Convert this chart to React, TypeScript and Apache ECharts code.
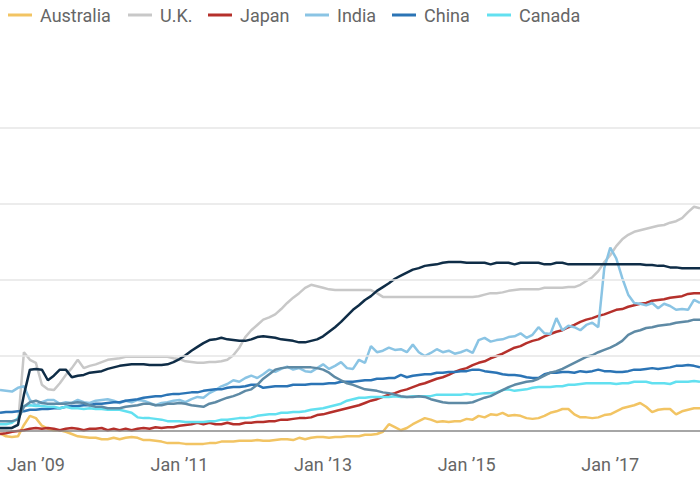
import React, { useEffect, useRef } from "react";
import * as echarts from "echarts";

// Monthly categories, Jul 2008 .. Apr 2018
const months: string[] = [];
for (let y = 2008; y <= 2018; y++) {
  for (let m = 1; m <= 12; m++) {
    if (y === 2008 && m < 7) continue;
    if (y === 2018 && m > 4) continue;
    months.push(`${y}-${String(m).padStart(2, "0")}`);
  }
}

const australia = [
  97, 93, 92, 93, 108, 120, 117, 107, 103, 101, 101, 99, 96, 93, 92, 91, 91, 89, 89, 91,
  89, 91, 92, 91, 88, 88, 87, 86, 84, 84, 84, 83, 83, 83, 83, 84, 84, 86, 86, 86,
  87, 87, 87, 88, 87, 87, 88, 89, 89, 88, 91, 89, 91, 92, 92, 91, 92, 92, 93, 93,
  93, 95, 95, 96, 99, 109, 105, 101, 104, 109, 113, 117, 115, 112, 113, 112, 113, 113, 116, 115,
  120, 118, 122, 121, 124, 120, 121, 120, 117, 116, 117, 120, 124, 126, 129, 129, 122, 118, 118, 117,
  118, 121, 122, 126, 130, 132, 134, 137, 132, 125, 128, 129, 129, 122, 126, 128, 130, 130,
];

const uk = [
  103, 103, 104, 108, 204, 194, 190, 161, 155, 154, 163, 174, 183, 194, 183, 186, 188, 191, 194, 195,
  196, 198, 198, 198, 198, 198, 198, 198, 198, 196, 195, 192, 191, 190, 190, 191, 191, 192, 194, 200,
  210, 224, 233, 240, 247, 250, 254, 261, 269, 276, 282, 289, 293, 291, 289, 287, 286, 286, 286, 286,
  286, 286, 286, 282, 277, 277, 277, 277, 277, 277, 277, 277, 277, 277, 277, 277, 277, 277, 277, 277,
  278, 280, 282, 282, 283, 285, 286, 287, 287, 287, 287, 289, 289, 289, 289, 290, 290, 293, 298, 303,
  311, 323, 332, 344, 353, 359, 363, 365, 367, 369, 371, 372, 375, 377, 381, 389, 396, 394,
];

const japan = [
  96, 97, 99, 100, 101, 103, 104, 103, 104, 103, 101, 103, 104, 103, 101, 103, 103, 104, 101, 103,
  101, 103, 101, 103, 104, 103, 105, 104, 105, 105, 107, 108, 109, 111, 109, 111, 109, 109, 111, 109,
  109, 111, 111, 112, 112, 113, 113, 115, 115, 116, 117, 117, 118, 121, 122, 124, 126, 128, 130, 132,
  134, 137, 140, 142, 145, 148, 150, 153, 155, 158, 161, 163, 166, 169, 171, 174, 178, 181, 183, 187,
  190, 192, 196, 199, 202, 206, 210, 212, 216, 219, 221, 225, 228, 231, 233, 237, 240, 244, 247, 249,
  252, 254, 257, 260, 261, 264, 266, 268, 269, 272, 273, 274, 276, 277, 278, 281, 282, 282,
];

const india = [
  154, 153, 152, 157, 159, 141, 134, 138, 141, 141, 136, 138, 137, 141, 138, 137, 140, 141, 142, 140,
  137, 140, 138, 141, 140, 137, 134, 137, 138, 140, 141, 138, 142, 145, 144, 150, 154, 159, 162, 167,
  165, 170, 173, 170, 175, 181, 178, 182, 185, 181, 183, 179, 178, 183, 188, 182, 186, 191, 183, 182,
  194, 190, 212, 204, 206, 210, 207, 208, 204, 214, 204, 199, 203, 208, 204, 206, 202, 204, 207, 203,
  220, 223, 218, 220, 221, 224, 225, 229, 223, 227, 237, 229, 228, 249, 233, 239, 237, 233, 240, 243,
  237, 315, 342, 328, 302, 280, 269, 268, 266, 269, 262, 268, 265, 260, 261, 260, 273, 269,
];

const china = [
  124, 125, 125, 126, 126, 128, 128, 129, 129, 130, 130, 132, 133, 133, 134, 134, 136, 136, 137, 138,
  138, 140, 141, 142, 144, 145, 146, 146, 148, 149, 149, 150, 151, 151, 153, 154, 155, 155, 157, 158,
  158, 159, 161, 161, 157, 158, 159, 159, 159, 161, 161, 161, 162, 162, 162, 163, 163, 165, 165, 165,
  166, 167, 167, 169, 169, 170, 170, 174, 171, 173, 174, 175, 175, 177, 177, 178, 178, 179, 179, 181,
  181, 179, 178, 177, 175, 174, 174, 173, 171, 170, 170, 175, 177, 177, 178, 178, 177, 179, 178, 179,
  181, 179, 179, 178, 178, 179, 181, 181, 182, 183, 182, 183, 184, 186, 186, 187, 186, 184,
];

const canada = [
  109, 109, 111, 117, 133, 134, 133, 133, 132, 132, 130, 132, 130, 130, 129, 130, 129, 129, 128, 128,
  128, 126, 124, 118, 117, 117, 116, 115, 113, 113, 113, 112, 112, 112, 112, 113, 113, 115, 115, 116,
  117, 117, 118, 120, 121, 122, 122, 124, 124, 125, 125, 126, 128, 129, 130, 132, 134, 136, 140, 142,
  144, 144, 145, 145, 145, 145, 146, 145, 145, 146, 146, 146, 146, 148, 148, 148, 148, 148, 149, 148,
  149, 150, 150, 151, 154, 155, 153, 154, 155, 157, 158, 158, 158, 159, 159, 161, 161, 162, 163, 163,
  163, 163, 163, 162, 163, 163, 165, 165, 165, 163, 163, 163, 162, 165, 165, 165, 166, 165,
];

const us = [
  104, 104, 104, 108, 148, 181, 182, 181, 167, 173, 181, 181, 171, 173, 174, 177, 178, 179, 182, 184,
  186, 187, 188, 188, 188, 187, 187, 187, 188, 191, 195, 200, 206, 211, 216, 220, 221, 223, 221, 220,
  219, 219, 221, 224, 225, 224, 223, 221, 220, 219, 217, 217, 219, 221, 225, 231, 237, 244, 252, 260,
  266, 273, 278, 285, 290, 295, 301, 305, 309, 313, 315, 318, 319, 320, 322, 323, 323, 323, 322, 322,
  322, 322, 320, 322, 322, 322, 320, 322, 322, 322, 322, 320, 320, 322, 322, 320, 320, 320, 320, 320,
  320, 320, 320, 320, 320, 320, 320, 320, 319, 319, 318, 318, 316, 316, 315, 315, 315, 315,
];

const eurozone = [
  113, 113, 113, 115, 132, 138, 140, 137, 136, 136, 136, 136, 137, 138, 137, 134, 132, 132, 130, 130,
  130, 132, 133, 134, 136, 136, 134, 134, 136, 136, 137, 136, 134, 133, 132, 136, 138, 141, 144, 146,
  149, 153, 155, 161, 169, 175, 181, 183, 184, 184, 184, 184, 184, 183, 181, 177, 171, 167, 163, 161,
  158, 155, 154, 153, 151, 150, 148, 146, 145, 145, 146, 145, 142, 140, 138, 137, 137, 137, 137, 138,
  141, 144, 146, 150, 154, 158, 161, 163, 165, 166, 169, 173, 177, 179, 182, 186, 190, 194, 198, 200,
  204, 207, 210, 214, 219, 227, 231, 233, 236, 237, 239, 240, 241, 243, 244, 245, 247, 247,
];

const gridValues = [200, 300, 400, 500];
const baselineValue = 100;

const seriesDefs = [
  { name: "Australia", data: australia, color: "#f2c463" },
  { name: "U.K.", data: uk, color: "#c8c8c8" },
  { name: "Japan", data: japan, color: "#b5302b" },
  { name: "India", data: india, color: "#8ac4e4" },
  { name: "China", data: china, color: "#2b74b5" },
  { name: "Canada", data: canada, color: "#62e0f0" },
  { name: "Eurozone", data: eurozone, color: "#5e8aa5" },
  { name: "U.S.", data: us, color: "#0f2d47" },
];

const legendItems = [
  { name: "Australia", left: 8 },
  { name: "U.K.", left: 128 },
  { name: "Japan", left: 208 },
  { name: "India", left: 305 },
  { name: "China", left: 392 },
  { name: "Canada", left: 487 },
];

export default function App() {
  const ref = useRef<HTMLDivElement>(null);
  useEffect(() => {
    if (!ref.current) return;
    const chart = echarts.init(ref.current, null, { renderer: "svg" });
    const font = "Roboto";
    chart.setOption({
      animation: false,
      backgroundColor: "#ffffff",
      legend: legendItems.map((l) => ({
        data: [l.name],
        left: l.left,
        top: 6,
        padding: 0,
        icon: "rect",
        itemWidth: 24,
        itemHeight: 3,
        itemGap: 0,
        selectedMode: false,
        textStyle: { fontSize: 18, color: "#666666", fontFamily: font, padding: [0, 0, 0, 3] },
      })),
      grid: { left: 0, right: 0, top: 52.25, bottom: 50.06, containLabel: false },
      xAxis: {
        type: "category",
        data: months,
        boundaryGap: false,
        axisLine: { show: false },
        axisTick: { show: false },
        splitLine: { show: false },
        axisLabel: {
          interval: (idx: number, val: string) => {
            const [y, m] = val.split("-").map(Number);
            return m === 1 && y % 2 === 1;
          },
          formatter: (val: string) => `Jan \u2019${val.slice(2, 4)}`,
          fontSize: 18,
          color: "#666666",
          fontFamily: font,
          margin: 6,
        },
      },
      yAxis: {
        type: "value",
        min: 75,
        max: 600,
        show: false,
        splitLine: { show: false },
      },
      series: [
        {
          name: "grid",
          type: "line",
          data: months.map(() => null),
          silent: true,
          markLine: {
            silent: true,
            symbol: "none",
            label: { show: false },
            data: [
              ...gridValues.map((v) => ({ yAxis: v, lineStyle: { color: "#e6e6e6", width: 1.5, type: "solid" } })),
              { yAxis: baselineValue, lineStyle: { color: "#888888", width: 1.5, type: "solid" } },
            ],
          },
        },
        ...seriesDefs.map((s) => ({
          name: s.name,
          type: "line",
          data: s.data,
          symbol: "none",
          showSymbol: false,
          color: s.color,
          lineStyle: { color: s.color, width: 2.5 },
          itemStyle: { color: s.color },
        })),
      ],
    });
    return () => chart.dispose();
  }, []);
  return (
    <div
      ref={ref}
      style={{ position: "fixed", left: 0, top: 0, width: 700, height: 500, background: "#fff" }}
    />
  );
}
